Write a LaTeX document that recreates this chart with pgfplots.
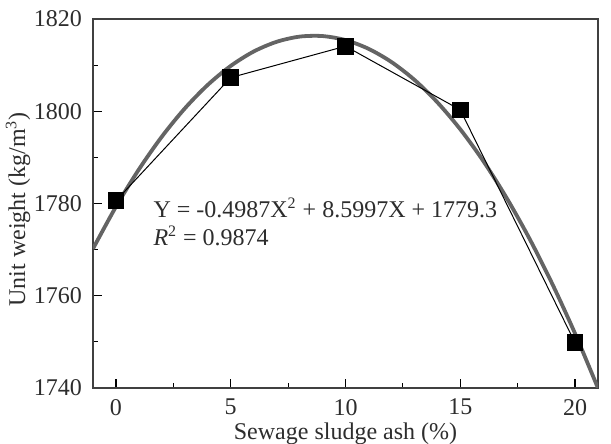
\documentclass[border=0pt]{standalone}
\usepackage{fontspec}
\setmainfont{Liberation Serif}
\usepackage{pgfplots}
\pgfplotsset{compat=1.18}
\definecolor{fitgray}{RGB}{100,100,100}
\definecolor{txt}{RGB}{45,45,45}
\begin{document}
\begin{tikzpicture}
\path[use as bounding box] (-46.5pt,-28pt) rectangle (259pt,194pt);
\begin{axis}[
  at={(0pt,0pt)}, anchor=south west,
  scale only axis,
  width=252.5pt, height=184.5pt,
  xmin=-1, xmax=21, ymin=1740, ymax=1820,
  xtick={0,5,10,15,20}, ytick={1740,1760,1780,1800,1820},
  minor tick num=1,
  tick align=inside,
  xtick pos=bottom, ytick pos=left,
  major tick length=4.5pt, minor tick length=2.5pt,
  axis line style={line width=0.8pt, black!75},
  every tick/.style={black, line width=0.6pt},
  /pgf/number format/assume math mode=true,
  /pgf/number format/1000 sep={},
  ticklabel style={font=\fontsize{12}{14}\selectfont, text=txt},
  xticklabel style={yshift=-2pt},
  yticklabel style={xshift=-2pt},
  xlabel={Sewage sludge ash (\%)},
  ylabel={Unit weight (kg/m\textsuperscript{3})},
  label style={font=\fontsize{12}{14}\selectfont, text=txt},
  xlabel style={yshift=3pt},
  ylabel shift=-5pt,
  ylabel style={xshift=-3pt},
  clip=true,
]
\addplot[fitgray, line width=1.9pt, smooth] coordinates {
(-1,1770.20) (0,1779.30) (1,1787.40) (2,1794.50) (3,1800.61) (4,1805.72)
(5,1809.83) (6,1812.95) (7,1815.06) (8,1816.18) (9,1816.30) (10,1815.43)
(11,1813.55) (12,1810.68) (13,1806.82) (14,1801.95) (15,1796.09) (16,1789.23)
(17,1781.37) (18,1772.52) (19,1762.66) (20,1751.81) (21,1739.97)};
\addplot[black, line width=0.5pt, mark=square*, mark size=3.9pt] coordinates {
(0,1780.6) (5,1807.3) (10,1814.1) (15,1800.3) (20,1749.8)};
\node[anchor=base west, font=\fontsize{12}{14}\selectfont, text=txt, inner sep=0pt]
  at (axis cs:1.62,1777.07) {Y = -0.4987X\textsuperscript{2} + 8.5997X + 1779.3};
\node[anchor=base west, font=\fontsize{12}{14}\selectfont, text=txt, inner sep=0pt]
  at (axis cs:1.62,1771.0) {\textit{R}\textsuperscript{2} = 0.9874};
\end{axis}
\end{tikzpicture}
\end{document}
